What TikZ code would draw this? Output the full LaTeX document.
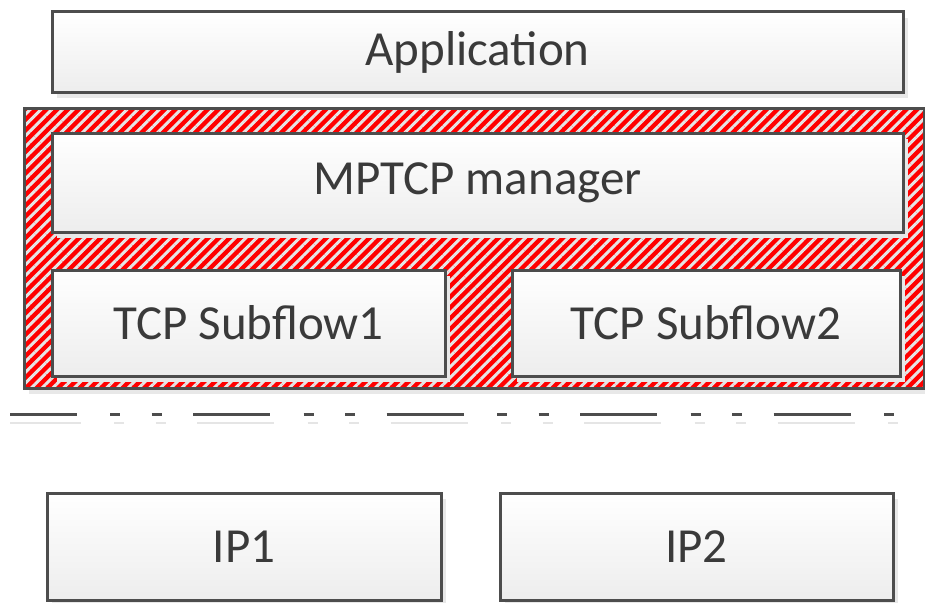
\documentclass[tikz,border=0pt]{standalone}
\usepackage{fontspec}
\setmainfont{Carlito}
\usetikzlibrary{patterns.meta,shadows}
\definecolor{edge}{HTML}{4D4D4D}
\definecolor{txt}{HTML}{3A3A3A}
\begin{document}
\begin{tikzpicture}[x=1pt,y=-1pt,
  boxshadow/.style={drop shadow={shadow xshift=5pt,shadow yshift=-6pt,opacity=1,fill=black!9}},
  box/.style={draw=edge,line width=3pt,rectangle,inner sep=0pt,
    top color=white,bottom color=black!7,boxshadow,
    font=\fontsize{49}{58}\selectfont,text=txt},
  hatchbox/.style={draw=edge,line width=3pt,rectangle,inner sep=0pt,boxshadow,
    preaction={fill=red},
    pattern={Lines[angle=45,distance=7.6pt,line width=3pt]},pattern color=black!10},
  sep/.style={line width=3pt,draw=edge,
    dash pattern=on 77pt off 33.5pt on 10pt off 31.5pt on 10pt off 31.5pt},
  sepshadow/.style={line width=2pt,draw=black!10,
    dash pattern=on 77pt off 33.5pt on 10pt off 31.5pt on 10pt off 31.5pt}
]
\useasboundingbox (0,0) rectangle (925,602);
\node[box,minimum width=851pt,minimum height=80pt] (app) at (477.5,52) {Application};
\node[hatchbox,minimum width=900pt,minimum height=280pt] (outer) at (474,248) {};
\node[box,minimum width=851pt,minimum height=99pt] (mgr) at (477.5,182.5) {MPTCP manager};
\node[box,minimum width=393pt,minimum height=106pt] (sf1) at (248.5,323) {TCP Subflow1};
\node[box,minimum width=388pt,minimum height=106pt] (sf2) at (706,323) {TCP Subflow2};
\node[box,minimum width=394pt,minimum height=107pt] (ip1) at (244,546.5) {IP1};
\node[box,minimum width=393pt,minimum height=107pt] (ip2) at (696.5,546.5) {IP2};
\coordinate (dl) at (-0.5,414);
\coordinate (dr) at (925,414);
\coordinate (sl) at (3.5,423);
\coordinate (sr) at (929,423);
\begin{scope}
\clip (10,0) rectangle (925,602);
\draw[sepshadow] (sl) -- (sr);
\draw[sep] (dl) -- (dr);
\end{scope}
\end{tikzpicture}
\end{document}
